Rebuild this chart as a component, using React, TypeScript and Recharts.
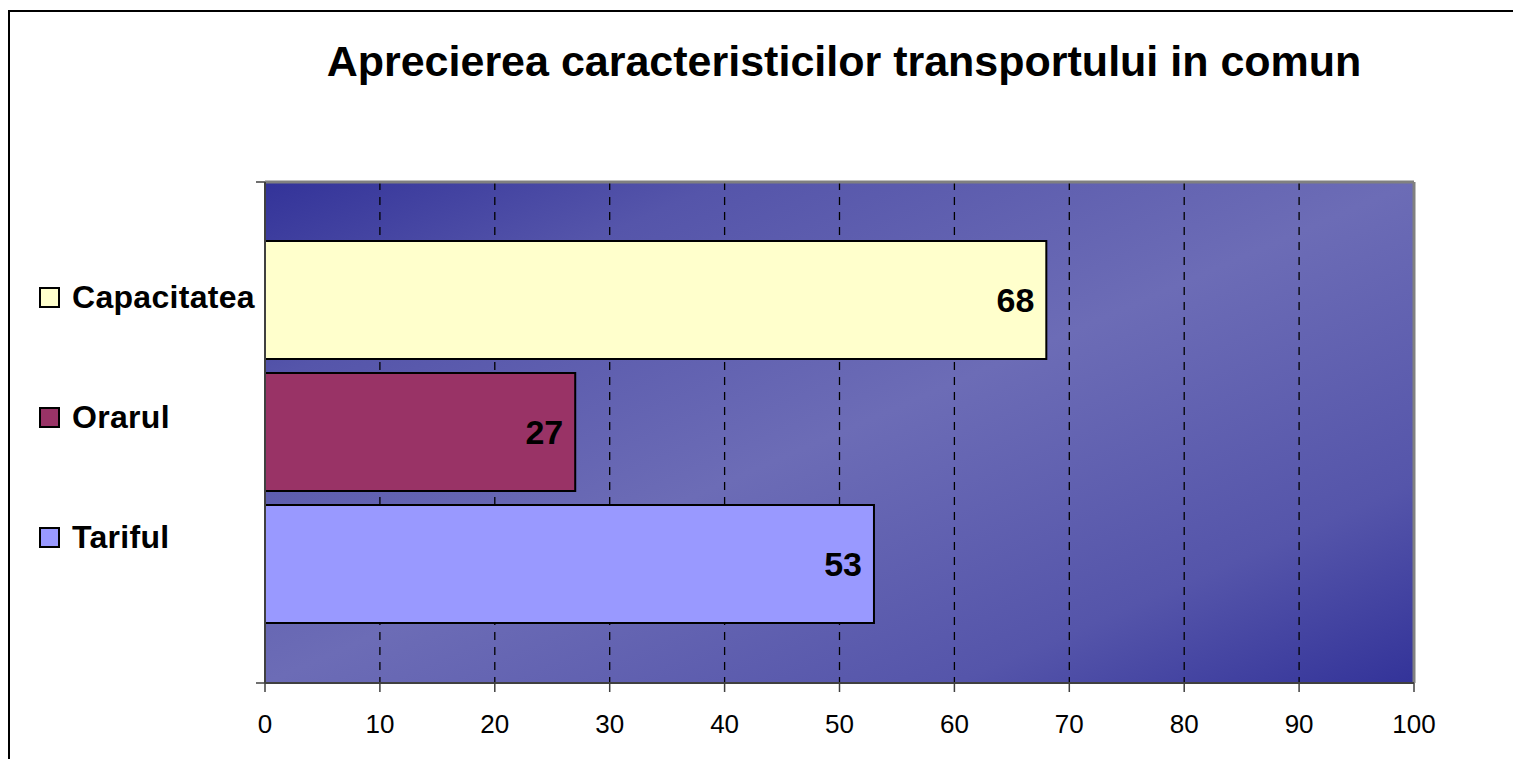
import React from "react";
import {
  BarChart,
  Bar,
  XAxis,
  YAxis,
  CartesianGrid,
  LabelList,
  ReferenceLine,
} from "recharts";

const categories = ["Transport"];
const seriesNames = ["Capacitatea", "Orarul", "Tariful"];
const seriesValues = [68, 27, 53];
const seriesColors = ["#FFFFCC", "#993366", "#9999FF"];
const xTicks = [0, 10, 20, 30, 40, 50, 60, 70, 80, 90, 100];
const title = "Aprecierea caracteristicilor transportului in comun";

const data = categories.map((c) => {
  const row: Record<string, any> = { name: c };
  seriesNames.forEach((s, i) => {
    row[s] = seriesValues[i];
  });
  return row;
});

const FONT = "'Liberation Sans', Arial, Helvetica, sans-serif";

const BandEdgeTicks = (props: any) => {
  const { x, y, payload } = props;
  const half = payload && typeof payload.offset === "number" ? payload.offset : 0;
  return (
    <g>
      <line x1={x - 9} x2={x} y1={y - half} y2={y - half} stroke="#404040" strokeWidth={1.5} />
      <line x1={x - 9} x2={x} y1={y + half} y2={y + half} stroke="#404040" strokeWidth={1.5} />
    </g>
  );
};

export default function App() {
  return (
    <div
      style={{
        position: "absolute",
        left: 0,
        top: 0,
        width: 1513,
        height: 759,
        overflow: "hidden",
        background: "#ffffff",
        fontFamily: FONT,
      }}
    >
      <div
        style={{
          position: "absolute",
          left: 8,
          top: 10,
          width: 1600,
          height: 900,
          border: "2px solid #000",
        }}
      />
      <div
        style={{
          position: "absolute",
          left: 244,
          width: 1200,
          top: 37,
          textAlign: "center",
          fontSize: 43,
          lineHeight: "48px",
          fontWeight: "bold",
          whiteSpace: "nowrap",
          color: "#000",
        }}
      >
        {title}
      </div>
      {seriesNames.map((s, i) => (
        <div
          key={s}
          style={{
            position: "absolute",
            left: 39,
            top: 279 + i * 120,
            height: 36,
            display: "flex",
            alignItems: "center",
            fontSize: 32,
            fontWeight: "bold",
            color: "#000",
            letterSpacing: 0.3,
          }}
        >
          <span
            style={{
              display: "inline-block",
              width: 17,
              height: 17,
              background: seriesColors[i],
              border: "2px solid #000",
              marginRight: 12,
            }}
          />
          {s}
        </div>
      ))}
      <div style={{ position: "absolute", left: 0, top: 0 }}>
        <BarChart
          width={1513}
          height={759}
          data={data}
          layout="vertical"
          margin={{ top: 182, right: 99, bottom: 0, left: 256 }}
          barCategoryGap={59}
          barGap={14}
        >
          <defs>
            <linearGradient id="plotBg" x1="0" y1="0" x2="1" y2="1">
              <stop offset="0" stopColor="#333399" />
              <stop offset="0.2" stopColor="#5555aa" />
              <stop offset="0.5" stopColor="#6c6cb6" />
              <stop offset="0.8" stopColor="#5555aa" />
              <stop offset="1" stopColor="#333399" />
            </linearGradient>
          </defs>
          <CartesianGrid
            horizontal={false}
            vertical={true}
            stroke="#000"
            strokeWidth={1.3}
            strokeDasharray="8 7"
            fill="url(#plotBg)"
            fillOpacity={1}
          />
          <CartesianGrid
            vertical={false}
            horizontal={true}
            stroke="#808080"
            strokeWidth={3}
            horizontalCoordinatesGenerator={({ offset }: any) => [offset.top]}
          />
          <XAxis
            type="number"
            domain={[0, 100]}
            ticks={xTicks}
            interval={0}
            height={76}
            tickSize={9}
            tickMargin={23}
            axisLine={{ stroke: "#404040", strokeWidth: 2 }}
            tickLine={{ stroke: "#404040", strokeWidth: 1.5 }}
            tick={{ fill: "#000", fontSize: 26, fontFamily: FONT }}
          />
          <YAxis
            type="category"
            dataKey="name"
            width={9}
            tickLine={false}
            tickSize={0}
            tickMargin={0}
            tick={<BandEdgeTicks />}
            axisLine={{ stroke: "#404040", strokeWidth: 2 }}
          />
          <ReferenceLine x={100} stroke="#808080" strokeWidth={3} />
          {seriesNames.map((s, i) => (
            <Bar
              key={s}
              dataKey={s}
              fill={seriesColors[i]}
              stroke="#000"
              strokeWidth={2}
              isAnimationActive={false}
            >
              <LabelList
                dataKey={s}
                position="insideRight"
                offset={12}
                fill="#000"
                fontSize={34}
                fontWeight="bold"
                fontFamily={FONT}
              />
            </Bar>
          ))}
        </BarChart>
      </div>
    </div>
  );
}
